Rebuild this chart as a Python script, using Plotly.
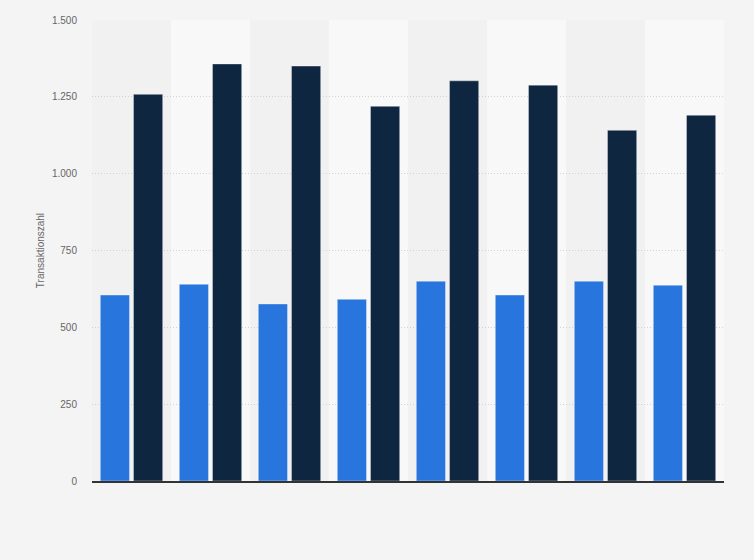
import plotly.graph_objects as go

# Werte
kategorien = ["1", "2", "3", "4", "5", "6", "7", "8"]
serie_a = [605, 640, 576, 591, 650, 605, 650, 637]
serie_b = [1258, 1357, 1350, 1219, 1302, 1288, 1141, 1190]
y_ticks = [0, 250, 500, 750, 1000, 1250, 1500]

fig = go.Figure()

fig.add_trace(go.Bar(
    x=kategorien, y=serie_a, name="A",
    marker_color="#2876dd",
    marker_line_color="rgba(255,255,255,0.35)", marker_line_width=1,
))
fig.add_trace(go.Bar(
    x=kategorien, y=serie_b, name="B",
    marker_color="#0f2641",
    marker_line_color="rgba(255,255,255,0.35)", marker_line_width=1,
))

# Hintergrundstreifen je Kategorie (abwechselnd)
shapes = []
for i, _ in enumerate(kategorien):
    shapes.append(dict(
        type="rect", xref="x", yref="paper",
        x0=i - 0.5, x1=i + 0.5, y0=0, y1=1,
        fillcolor="#f8f8f8" if i % 2 else "#f1f1f1",
        line_width=0, layer="below",
    ))

fig.update_layout(
    width=754, height=560,
    paper_bgcolor="#f4f4f4",
    plot_bgcolor="rgba(0,0,0,0)",
    barmode="group",
    bargap=0.16,
    bargroupgap=0.12,
    showlegend=False,
    separators=",.",
    font=dict(family="Liberation Sans, Arial, sans-serif", size=10, color="#666"),
    margin=dict(l=92, r=30, t=20, b=79),
    shapes=shapes,
    xaxis=dict(
        showticklabels=False,
        showgrid=False,
        showline=True, linecolor="#333", linewidth=1.5,
        ticks="",
        range=[-0.5, len(kategorien) - 0.5],
    ),
    yaxis=dict(
        title=dict(text="Transaktionszahl", font=dict(size=10, color="#666"), standoff=5),
        range=[0, 1500],
        tickvals=y_ticks,
        tickformat=",d",
        showgrid=True, gridcolor="#d2d2d2", griddash="1px,2px", gridwidth=1,
        zeroline=False,
        ticks="", ticklabelstandoff=14,
        tickfont=dict(size=10, color="#666"),
    ),
)

# Seitenrand des Browsers entfernen
fig.write_html(
    "out.html",
    config={"displayModeBar": False},
    post_script="document.body.style.margin='0';",
)
